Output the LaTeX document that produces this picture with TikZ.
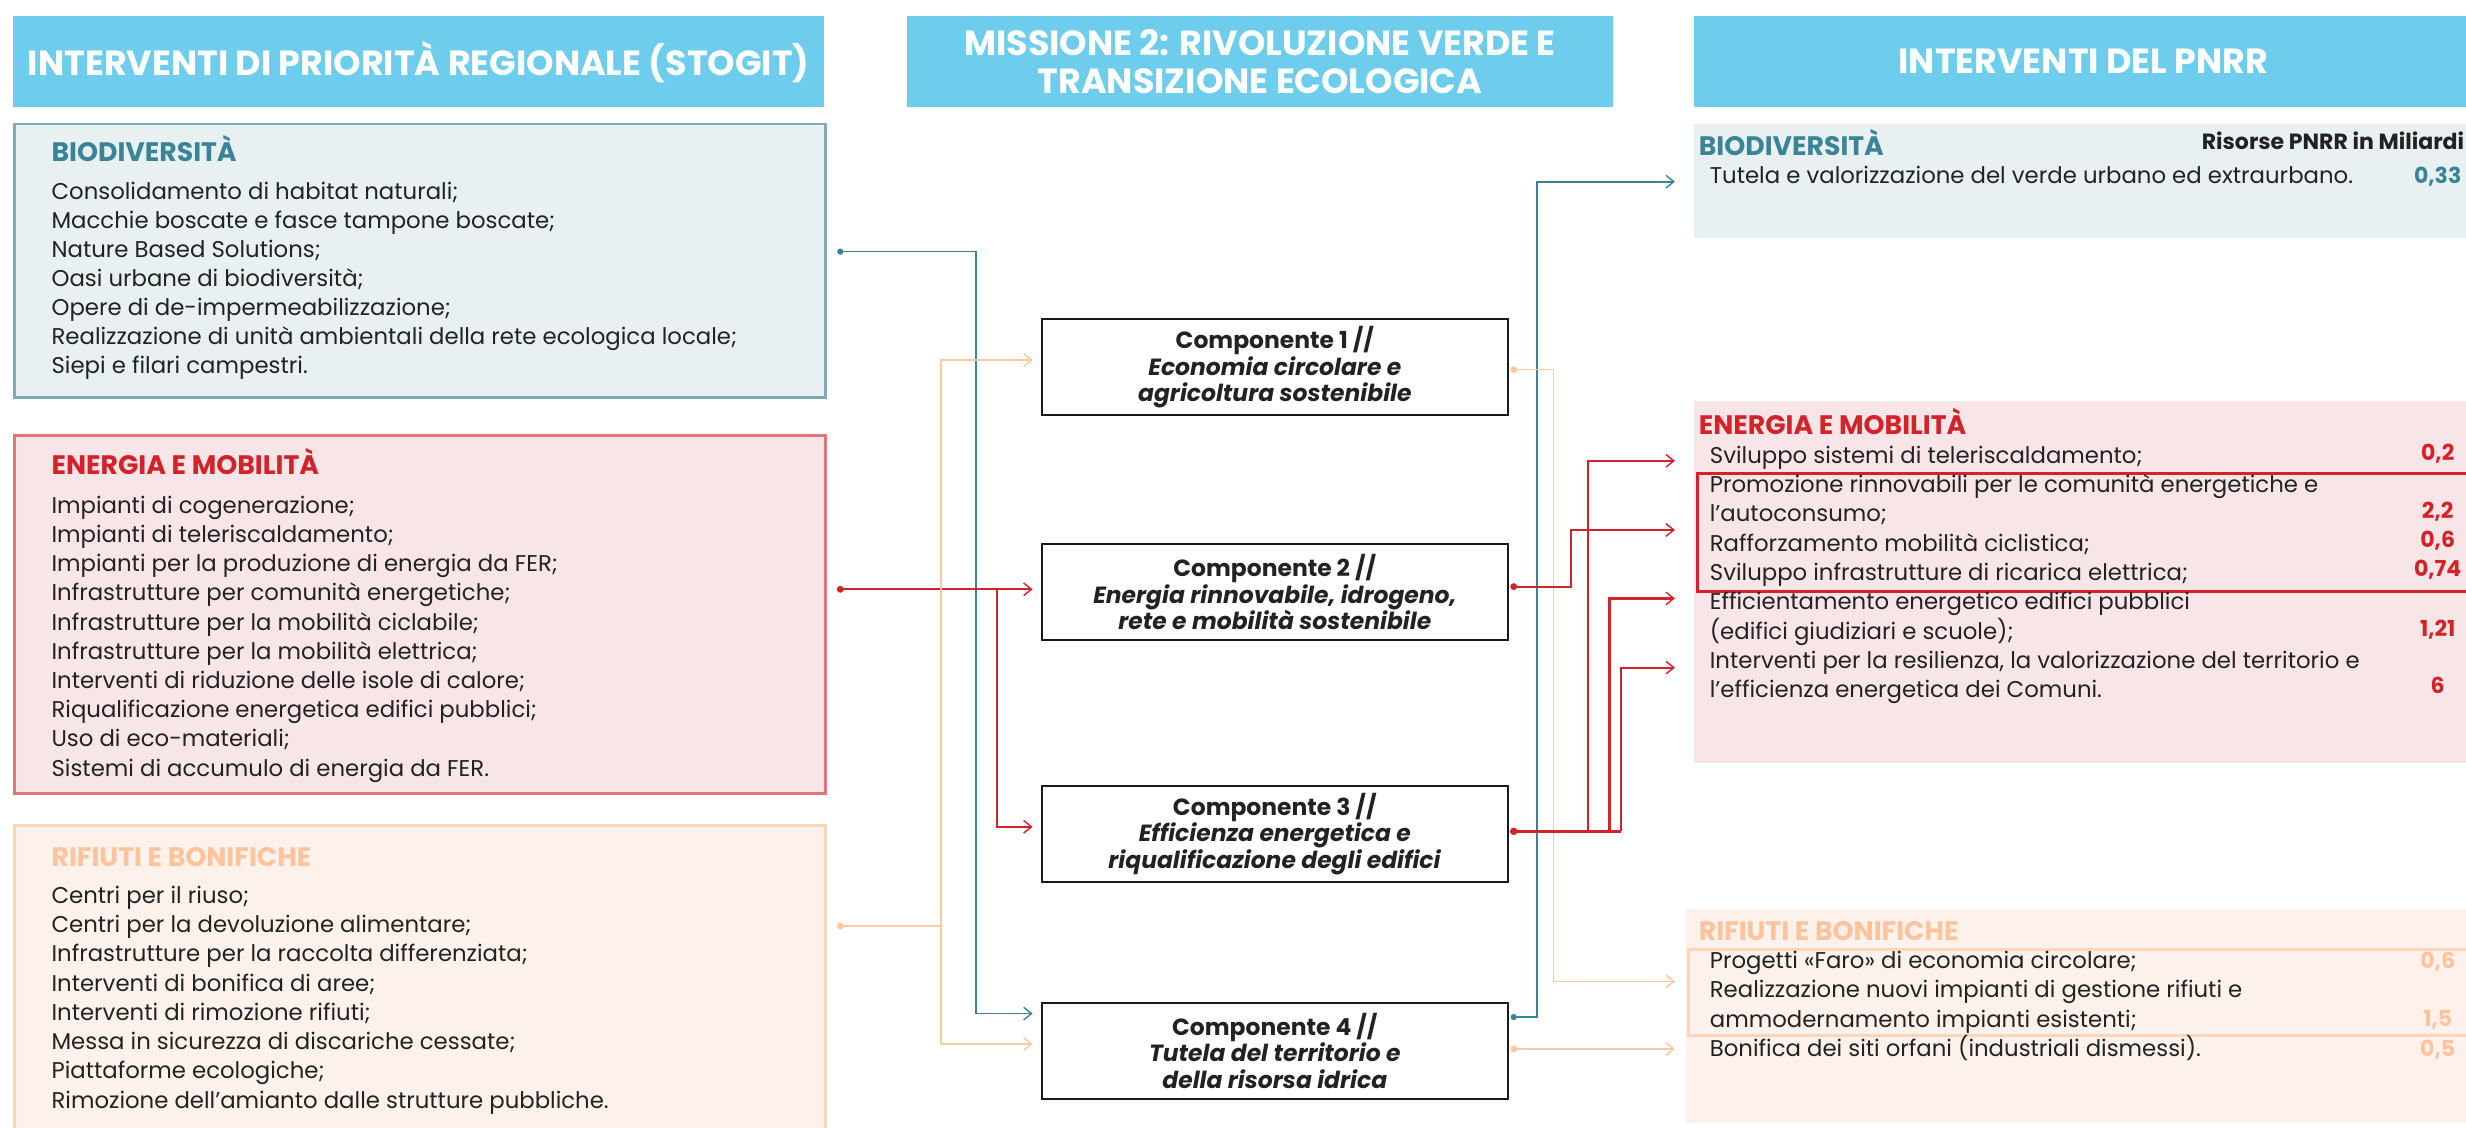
\documentclass[tikz,border=0pt]{standalone}
\usepackage{fontspec}
\setmainfont{Poppins}
\usetikzlibrary{arrows.meta}
\definecolor{cHdr}{HTML}{6ECDEC}
\definecolor{cTeal}{HTML}{3A8498}
\definecolor{cTealBd}{HTML}{7FABB7}
\definecolor{cTealBg}{HTML}{E8F0F2}
\definecolor{cRed}{HTML}{D2232A}
\definecolor{cRedBd}{HTML}{E0767C}
\definecolor{cRedBg}{HTML}{F8E5E8}
\definecolor{cPeach}{HTML}{FCC39C}
\definecolor{cPeachBd}{HTML}{FDD6BA}
\definecolor{cPeachBg}{HTML}{FDF2EB}
\definecolor{cPeachLn}{HTML}{FCC8A2}
\definecolor{cText}{HTML}{222222}
\newcommand\myBody{\fontsize{14.5}{16}\selectfont}
\newcommand\myTitle{\fontsize{17}{19}\selectfont\bfseries}
\newcommand\myHdr{\fontsize{22.2}{24.5}\selectfont\bfseries}
\newcommand\myComp{\fontsize{14.9}{17}\selectfont\bfseries}
\newcommand\myVal{\fontsize{14}{15}\selectfont\bfseries}
\begin{document}
\begin{tikzpicture}[x=1pt,y=-1pt,
  hdrbox/.style={fill=cHdr, text=white, font=\myHdr, align=center, inner sep=0pt, anchor=north west},
  catbox/.style={line width=1.6pt, inner sep=0pt, anchor=north west},
  panel/.style={inner sep=0pt, anchor=north west},
  item/.style={anchor=base west, inner sep=0pt, font=\myBody, text=cText},
  ttl/.style={anchor=base west, inner sep=0pt, font=\myTitle},
  val/.style={anchor=base, inner sep=0pt, font=\myVal},
  comp/.style={draw=black!90, line width=1.2pt, fill=white, minimum width=296pt, minimum height=61pt, align=center, font=\myComp, text=cText, inner sep=0pt},
  ln/.style={line width=1.1pt},
  barb/.style={-{Straight Barb[length=5pt,width=8pt,line width=0.9pt]}},
  hilite/.style={line width=2pt, inner sep=0pt, anchor=north west}
]
\useasboundingbox (0,0) rectangle (1568,717);
\fill[white] (0,0) rectangle (1568,717);

% headers
\node[hdrbox, minimum width=516pt, minimum height=58pt] (hL) at (8,10) {INTERVENTI DI PRIORITÀ REGIONALE (STOGIT)};
\node[hdrbox, minimum width=449pt, minimum height=58pt] (hM) at (576.5,10) {MISSIONE 2: RIVOLUZIONE VERDE E\\TRANSIZIONE ECOLOGICA};
\node[hdrbox, minimum width=495pt, minimum height=58pt] (hR) at (1077,10) {INTERVENTI DEL PNRR};

% left boxes
\node[catbox, draw=cTealBd, fill=cTealBg, minimum width=515.6pt, minimum height=174pt] (bioL) at (8.4,78) {};
\node[catbox, draw=cRedBd, fill=cRedBg, minimum width=515.6pt, minimum height=227.6pt] (enL) at (8.4,276) {};
\node[catbox, draw=cPeachBd, fill=cPeachBg, minimum width=515.6pt, minimum height=210pt] (rifL) at (8.4,524) {};

\node[ttl, text=cTeal] (bioLt) at (32.6,102.6) {BIODIVERSITÀ};
\foreach \t [count=\i] in {Consolidamento di habitat naturali;, Macchie boscate e fasce tampone boscate;, Nature Based Solutions;, Oasi urbane di biodiversità;, Opere di de-impermeabilizzazione;, Realizzazione di unità ambientali della rete ecologica locale;, Siepi e filari campestri.}
  \node[item] (bl\i) at (32.6,{126.8+(\i-1)*18.5}) {\t};

\node[ttl, text=cRed] (enLt) at (32.6,302) {ENERGIA E MOBILITÀ};
\foreach \t [count=\i] in {Impianti di cogenerazione;, Impianti di teleriscaldamento;, Impianti per la produzione di energia da FER;, Infrastrutture per comunità energetiche;, Infrastrutture per la mobilità ciclabile;, Infrastrutture per la mobilità elettrica;, Interventi di riduzione delle isole di calore;, Riqualificazione energetica edifici pubblici;, Uso di eco-materiali;, Sistemi di accumulo di energia da FER.}
  \node[item] (el\i) at (32.6,{326.3+(\i-1)*18.57}) {\t};

\node[ttl, text=cPeach] (rifLt) at (32.6,551) {RIFIUTI E BONIFICHE};
\foreach \t [count=\i] in {Centri per il riuso;, Centri per la devoluzione alimentare;, Infrastrutture per la raccolta differenziata;, Interventi di bonifica di aree;, Interventi di rimozione rifiuti;, Messa in sicurezza di discariche cessate;, Piattaforme ecologiche;, Rimozione dell’amianto dalle strutture pubbliche.}
  \node[item] (rl\i) at (32.6,{574.4+(\i-1)*18.6}) {\t};

% component boxes
\node[comp] (c1) at (810.6,233.5) {Componente 1 //\\\textit{Economia circolare e}\\\textit{agricoltura sostenibile}};
\node[comp] (c2) at (810.6,376.5) {Componente 2 //\\\textit{Energia rinnovabile, idrogeno,}\\\textit{rete e mobilità sostenibile}};
\node[comp] (c3) at (810.6,530.2) {Componente 3 //\\\textit{Efficienza energetica e}\\\textit{riqualificazione degli edifici}};
\node[comp] (c4) at (810.6,668.2) {Componente 4 //\\\textit{Tutela del territorio e}\\\textit{della risorsa idrica}};

% right panels
\node[panel, fill=cTealBg, minimum width=495pt, minimum height=73pt] (bioR) at (1077,78.4) {};
\node[panel, fill=cRedBg, minimum width=495pt, minimum height=230pt] (enR) at (1077,255) {};
\node[panel, fill=cPeachBg, minimum width=500pt, minimum height=136pt] (rifR) at (1072,578) {};
\node[hilite, draw=cRed, minimum width=495pt, minimum height=75pt] (enHi) at (1078.5,300) {};
\node[hilite, draw=cPeachBd, line width=1.8pt, minimum width=500pt, minimum height=55pt] (rifHi) at (1072.5,602.6) {};

\node[ttl, text=cTeal] (bioRt) at (1080,98.6) {BIODIVERSITÀ};
\node[anchor=base east, inner sep=0pt, font=\myVal, text=cText] (ris) at (1567,95) {Risorse PNRR in Miliardi};
\node[item] (br1) at (1087,116.6) {Tutela e valorizzazione del verde urbano ed extraurbano.};
\node[val, text=cTeal] (bv1) at (1550,116.6) {0,33};

\node[ttl, text=cRed] (enRt) at (1080,276) {ENERGIA E MOBILITÀ};
\foreach \t [count=\i] in {Sviluppo sistemi di teleriscaldamento;, Promozione rinnovabili per le comunità energetiche e, l’autoconsumo;, Rafforzamento mobilità ciclistica;, Sviluppo infrastrutture di ricarica elettrica;, Efficientamento energetico edifici pubblici, (edifici giudiziari e scuole);, {Interventi per la resilienza, la valorizzazione del territorio e}, l’efficienza energetica dei Comuni.}
  \node[item] (er\i) at (1087,{294.6+(\i-1)*18.65}) {\t};
\node[val, text=cRed] (ev1) at (1550,292.5) {0,2};
\node[val, text=cRed] (ev2) at (1550,329.6) {2,2};
\node[val, text=cRed] (ev3) at (1550,348) {0,6};
\node[val, text=cRed] (ev4) at (1550,366.7) {0,74};
\node[val, text=cRed] (ev5) at (1550,404.8) {1,21};
\node[val, text=cRed] (ev6) at (1550,440.8) {6};

\node[ttl, text=cPeach] (rifRt) at (1080,597.7) {RIFIUTI E BONIFICHE};
\foreach \t [count=\i] in {Progetti «Faro» di economia circolare;, Realizzazione nuovi impianti di gestione rifiuti e, ammodernamento impianti esistenti;, Bonifica dei siti orfani (industriali dismessi).}
  \node[item] (rr\i) at (1087,{615.7+(\i-1)*18.73}) {\t};
\node[val, text=cPeach] (rv1) at (1550,615.7) {0,6};
\node[val, text=cPeach] (rv2) at (1550,652.8) {1,5};
\node[val, text=cPeach] (rv3) at (1550,671.9) {0,5};

% connector coordinates (left)
\coordinate (tL1) at (534.3,160);
\coordinate (tL2) at (620.8,644.5);
\coordinate (c4inT) at (656.6,644.5);
\coordinate (rL1) at (534.3,374.7);
\coordinate (rLb) at (634.1,374.7);
\coordinate (c2inR) at (656.6,374.7);
\coordinate (c3inR) at (656.6,525.7);
\coordinate (pL1) at (534.3,588.8);
\coordinate (pLx) at (598.5,588.8);
\coordinate (c1inP) at (656.6,229);
\coordinate (c4inP) at (656.6,663.8);
% right
\coordinate (c4oT) at (962.5,646.7);
\coordinate (tRx) at (977.3,646.7);
\coordinate (bioRin) at (1065,115.5);
\coordinate (c1oP) at (962.5,235);
\coordinate (pRx) at (987.8,235);
\coordinate (rifRin1) at (1065,624);
\coordinate (c4oP) at (962.5,667);
\coordinate (rifRin2) at (1065,667);
\coordinate (c2oR) at (962.5,373);
\coordinate (rRx2) at (998.8,373);
\coordinate (enRin2) at (1065,337);
\coordinate (c3oR) at (962.5,528.6);
\coordinate (rRa) at (1009.8,528.6);
\coordinate (rRb) at (1023.4,528.6);
\coordinate (rRend) at (1030.6,528.6);
\coordinate (enRin1) at (1065,293);
\coordinate (enRin3) at (1065,380.5);
\coordinate (enRin4) at (1065,424.5);

% left connectors
\draw[ln, cTeal, barb] (tL1) -| (tL2) -- (c4inT);
\draw[ln, cRed, line width=1.4pt, barb] (rL1) -- (c2inR);
\draw[ln, cRed, line width=1.4pt, barb] (rLb) |- (c3inR);
\draw[ln, cPeachLn] (pL1) -- (pLx);
\draw[ln, cPeachLn, barb] (pLx) |- (c1inP);
\draw[ln, cPeachLn, barb] (pLx) |- (c4inP);
\fill[cTeal] (tL1) circle (2);
\fill[cRed] (rL1) circle (2.2);
\fill[cPeachLn] (pL1) circle (2.2);

% right connectors
\draw[ln, cTeal, barb] (c4oT) -- (tRx) |- (bioRin);
\draw[ln, cPeachLn, barb] (c1oP) -- (pRx) |- (rifRin1);
\draw[ln, cPeachLn, barb] (c4oP) -- (rifRin2);
\draw[ln, cRed, line width=1.4pt, barb] (c2oR) -- (rRx2) |- (enRin2);
\draw[cRed, line width=2pt] (c3oR) -- (rRend);
\draw[ln, cRed, line width=1.4pt, barb] (rRa) |- (enRin1);
\draw[ln, cRed, line width=1.4pt, barb] (rRb) |- (enRin3);
\draw[ln, cRed, line width=1.4pt, barb] (rRend) |- (enRin4);
\fill[cTeal] (c4oT) circle (2);
\fill[cPeachLn] (c1oP) circle (2.2);
\fill[cPeachLn] (c4oP) circle (2.2);
\fill[cRed] (c2oR) circle (2.2);
\fill[cRed] (c3oR) circle (2.4);
\end{tikzpicture}
\end{document}
